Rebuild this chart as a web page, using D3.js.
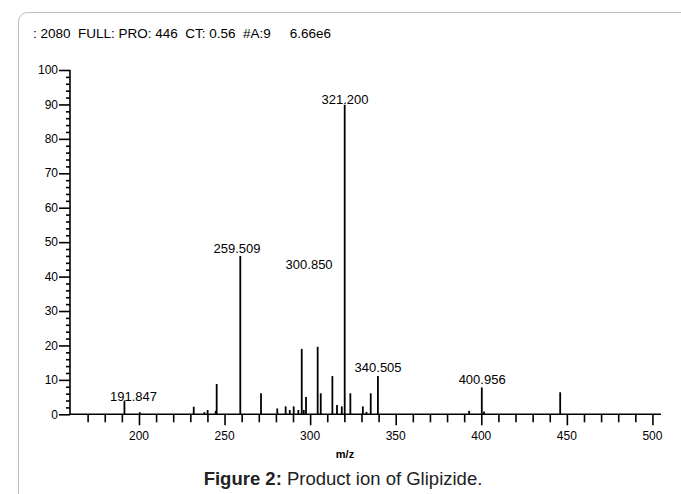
<!DOCTYPE html>
<html>
<head>
<meta charset="utf-8">
<script src="https://cdn.jsdelivr.net/npm/d3@7"></script>
<style>
  body { margin: 0; background: #fff; }
  text { font-family: "Liberation Sans", Arial, sans-serif; }
</style>
</head>
<body>
<div id="chart"></div>
<script>
var svgWidth = 681;
var svgHeight = 494;

// peak list (m/z, relative abundance %)
var peakMz = [191.5, 200.5, 232.0, 238.2, 240.1, 244.8, 245.4, 259.2, 271.3, 280.8,
  285.7, 288.1, 290.4, 293.1, 295.1, 296.3, 297.6, 304.4, 306.2, 313.0,
  315.7, 318.5, 320.2, 323.5, 330.8, 332.9, 335.4, 339.6, 392.9, 400.3,
  401.6, 446.1];
var peakInt = [4.0, 0.6, 2.2, 0.6, 1.25, 1.0, 8.8, 46.0, 6.1, 1.7,
  2.3, 1.25, 2.3, 1.25, 19.0, 1.25, 5.0, 19.6, 6.1, 11.1,
  2.7, 2.3, 89.9, 6.1, 2.3, 0.7, 6.1, 11.1, 1.0, 7.8,
  0.8, 6.4];

// peak annotations
var labelText = ["191.847", "259.509", "321.200", "300.850", "340.505", "400.956"];
var labelMz = [196.8, 257.3, 320.4, 299.4, 339.7, 400.5];
var labelInt = [5.3, 48.3, 91.4, 43.4, 13.5, 10.0];

var xTicksMajor = [200, 250, 300, 350, 400, 450, 500];
var yTicksMajor = [0, 10, 20, 30, 40, 50, 60, 70, 80, 90, 100];

var headerText = ": 2080  FULL: PRO: 446  CT: 0.56  #A:9     6.66e6";

var svg = d3.select("#chart")
  .append("svg")
  .attr("width", svgWidth)
  .attr("height", svgHeight);

// frame around the figure
svg.append("rect")
  .attr("x", 18.5)
  .attr("y", 12.5)
  .attr("width", 700)
  .attr("height", 520)
  .attr("rx", 9)
  .attr("fill", "none")
  .attr("stroke", "#bdbdbd")
  .attr("stroke-width", 1);

svg.append("text")
  .attr("x", 33)
  .attr("y", 38)
  .style("font-size", "13.5px")
  .attr("xml:space", "preserve")
  .style("white-space", "pre")
  .text(headerText);

var xScale = d3.scaleLinear().domain([159.7, 505]).range([70, 661]);
var yScale = d3.scaleLinear().domain([0, 100]).range([414.3, 70]);

var chartGroup = svg.append("g");

// x axis: minor ticks every 10, major every 50
var xAxis = chartGroup.append("g")
  .attr("transform", `translate(0, ${yScale(0)})`)
  .call(d3.axisBottom(xScale)
    .tickValues(d3.range(170, 501, 10))
    .tickSize(8)
    .tickFormat(""));
xAxis.selectAll(".tick line")
  .filter(d => d % 50 === 0)
  .attr("y2", 11);
xAxis.select(".domain").attr("d", `M${xScale.range()[0]},0H${xScale.range()[1]}`);
xAxis.selectAll("path, line").attr("stroke", "#000").attr("stroke-width", 1.6);

chartGroup.append("g")
  .selectAll("text")
  .data(xTicksMajor)
  .enter()
  .append("text")
  .attr("x", d => xScale(d))
  .attr("y", yScale(0) + 26)
  .attr("text-anchor", "middle")
  .style("font-size", "12px")
  .text(d => d);

// y axis: minor ticks every 2, major every 10
var yAxis = chartGroup.append("g")
  .attr("transform", `translate(${xScale.range()[0]}, 0)`)
  .call(d3.axisLeft(yScale)
    .tickValues(d3.range(0, 101, 2))
    .tickSize(4)
    .tickFormat(""));
yAxis.selectAll(".tick line")
  .filter(d => d % 10 === 0)
  .attr("x2", -11);
yAxis.select(".domain").attr("d", `M0,${yScale(0)}V${yScale(100)}`);
yAxis.selectAll("path, line").attr("stroke", "#000").attr("stroke-width", 1.6);

chartGroup.append("g")
  .selectAll("text")
  .data(yTicksMajor)
  .enter()
  .append("text")
  .attr("x", xScale.range()[0] - 12)
  .attr("y", d => yScale(d))
  .attr("dy", "0.35em")
  .attr("text-anchor", "end")
  .style("font-size", "12px")
  .text(d => d);

// spectrum sticks
chartGroup.selectAll(".peak")
  .data(peakMz)
  .enter()
  .append("line")
  .attr("class", "peak")
  .attr("x1", d => xScale(d))
  .attr("x2", d => xScale(d))
  .attr("y1", yScale(0))
  .attr("y2", (d, i) => yScale(peakInt[i]))
  .attr("stroke", "#000")
  .attr("stroke-width", 1.8);

chartGroup.selectAll(".peakLabel")
  .data(labelText)
  .enter()
  .append("text")
  .attr("class", "peakLabel")
  .attr("x", (d, i) => xScale(labelMz[i]))
  .attr("y", (d, i) => yScale(labelInt[i]))
  .attr("dy", "0.35em")
  .attr("text-anchor", "middle")
  .style("font-size", "13px")
  .text(d => d);

svg.append("text")
  .attr("x", 345)
  .attr("y", 458)
  .attr("text-anchor", "middle")
  .style("font-size", "11px")
  .style("font-weight", "bold")
  .text("m/z");

var caption = svg.append("text")
  .attr("x", 343)
  .attr("y", 485)
  .attr("text-anchor", "middle")
  .style("font-size", "18.5px")
  .attr("fill", "#222");
caption.append("tspan").style("font-weight", "bold").text("Figure 2:");
caption.append("tspan").text(" Product ion of Glipizide.");
</script>
</body>
</html>
